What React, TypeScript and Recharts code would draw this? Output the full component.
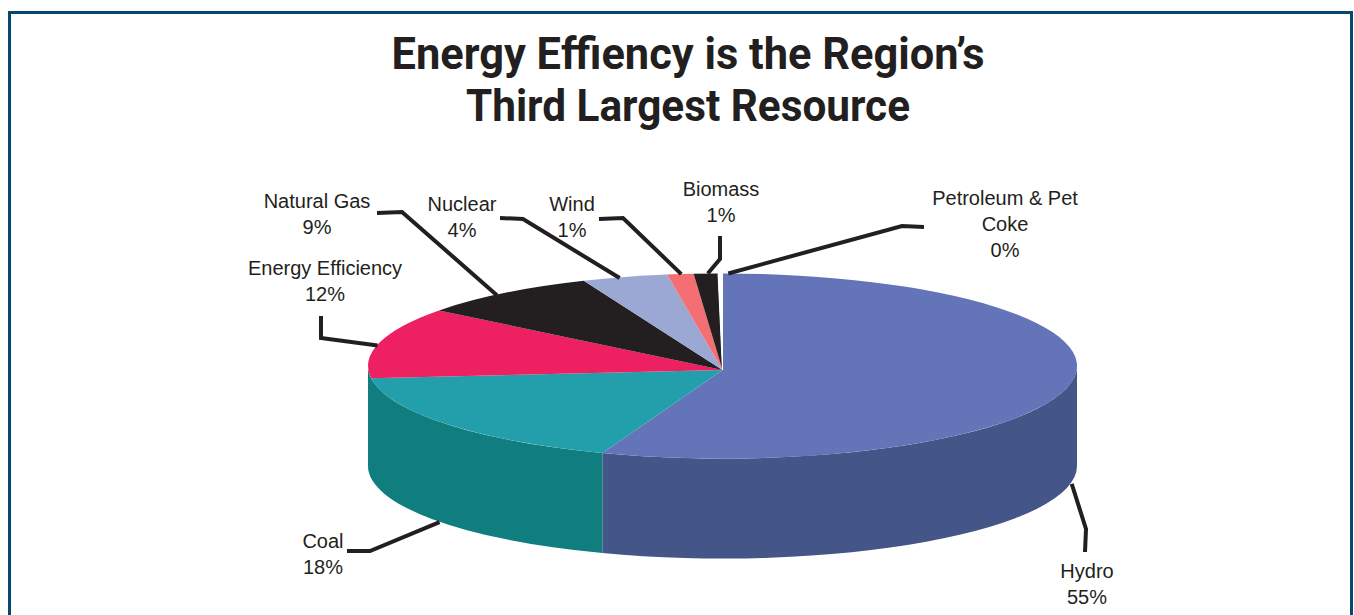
import { Pie, PieChart } from 'recharts'

const categories = ['Hydro', 'Coal', 'Energy Efficiency', 'Natural Gas', 'Nuclear', 'Wind', 'Biomass', 'Petroleum & Pet Coke']
// Slice sizes; the printed percentages are rounded
const values = [55.5, 17.4, 12.35, 8.35, 3.9, 1.2, 1.1, 0.2]
const percentLabels = ['55%', '18%', '12%', '9%', '4%', '1%', '1%', '0%']
const topColors = ['#6474b8', '#239fab', '#ed2061', '#231f20', '#9aa8d3', '#f46f73', '#231f20', '#ffffff']
const wallColors = ['#445587', '#107d7e', '', '', '', '', '', '']

const INK = '#231f20'
const BODY_FONT = 'Liberation Sans'
const RATIO = 0.261 // ellipse squash
const DEPTH = 100
const APEX_DROP = 4

// label block centre, first baseline and wrapped lines, plus leader elbow/end
const labelLines = [['Hydro'], ['Coal'], ['Energy Efficiency'], ['Natural Gas'], ['Nuclear'], ['Wind'], ['Biomass'], ['Petroleum & Pet', 'Coke']]
const labelPos = [[1087, 578], [323, 548], [325, 275], [317, 208], [462, 211], [572, 211], [721, 196], [1005, 205]]
const leaders = [
  [[1086, 529], [1085, 552]],
  [[370, 551], [347, 551]],
  [[321, 338], [321, 316]],
  [[402, 212], [377, 213]],
  [[523, 219], [500, 218]],
  [[623, 218], [599, 219]],
  [[720, 259], [720, 236]],
  [[902, 226], [924, 227]],
]
// where the reference leaders leave the pie, relative to the slice middle
const leaderNudge = [[0, 2], [-7, -2], [-2, 3], [-7, 2], [-5, 1], [1, 0], [2, 0], [8, 0]]

const chartData = categories.map((name, i) => ({
  name,
  value: values[i],
  fill: topColors[i],
  wall: wallColors[i],
  hasNextWall: Boolean(wallColors[i + 1]),
}))

const rad = (a: number) => (a * Math.PI) / 180

function PieSlice(props: any) {
  const { cx, cy, outerRadius: rx, startAngle, endAngle, fill, wall, hasNextWall } = props
  const ry = rx * RATIO
  const px = (a: number) => cx + rx * Math.cos(rad(a))
  const py = (a: number) => cy - ry * Math.sin(rad(a))
  const large = Math.abs(startAngle - endAngle) > 180 ? 1 : 0
  const top = `M${cx},${cy + APEX_DROP} L${px(startAngle)},${py(startAngle)} A${rx},${ry} 0 ${large} 1 ${px(endAngle)},${py(endAngle)} Z`

  let side = null
  if (wall) {
    const from = Math.min(startAngle, 0)
    const to = hasNextWall ? endAngle : -180
    side =
      `M${px(from)},${py(from)} A${rx},${ry} 0 0 1 ${px(to)},${py(to)} ` +
      `L${px(to)},${py(to) + DEPTH} A${rx},${ry} 0 0 0 ${px(from)},${py(from) + DEPTH} Z`
  }
  return (
    <g>
      {side && <path d={side} fill={wall} />}
      <path d={top} fill={fill} stroke={fill === '#ffffff' ? '#ffffff' : 'none'} strokeWidth={1} />
    </g>
  )
}

function SliceLabel(props: any) {
  const { cx, cy, outerRadius: rx, midAngle, index } = props
  const startX = cx + rx * Math.cos(rad(midAngle)) + leaderNudge[index][0]
  const edgeY = cy - rx * RATIO * Math.sin(rad(midAngle)) + leaderNudge[index][1]
  const startY = wallColors[index] ? edgeY + DEPTH : edgeY
  const points = [[startX, startY], ...leaders[index]].map((p) => p.join(',')).join(' ')
  const [x, y] = labelPos[index]
  const lines = [...labelLines[index], percentLabels[index]]
  return (
    <g>
      <polyline points={points} fill="none" stroke={INK} strokeWidth={4} />
      {lines.map((line, i) => (
        <text key={i} x={x} y={y + i * 26} textAnchor="middle" fontFamily={BODY_FONT} fontSize={20} fill={INK}>
          {line}
        </text>
      ))}
    </g>
  )
}

export default function App() {
  return (
    <div style={{ position: 'absolute', left: 0, top: 0, width: 1354, height: 615, overflow: 'hidden', background: '#fff' }}>
      <div
        style={{
          position: 'absolute',
          left: 8,
          top: 11,
          width: 1345,
          height: 640,
          boxSizing: 'border-box',
          border: '3px solid #054a6d',
        }}
      />
      <PieChart width={1354} height={615} margin={{ top: 0, right: 0, bottom: 0, left: 0 }} style={{ position: 'absolute', left: 0, top: 0 }}>
        <text x={688} y={69} textAnchor="middle" fontFamily="Roboto" fontWeight={700} fontSize={44} fill={INK} textLength={593} lengthAdjust="spacingAndGlyphs">
          Energy Effiency is the Region’s
        </text>
        <text x={688} y={121} textAnchor="middle" fontFamily="Roboto" fontWeight={700} fontSize={44} fill={INK} textLength={444} lengthAdjust="spacingAndGlyphs">
          Third Largest Resource
        </text>
        <Pie
          data={chartData}
          dataKey="value"
          nameKey="name"
          cx={722.5}
          cy={366}
          innerRadius={0}
          outerRadius={354.5}
          startAngle={90}
          endAngle={-270}
          paddingAngle={0}
          stroke="none"
          shape={PieSlice}
          label={SliceLabel}
          labelLine={false}
          isAnimationActive={false}
        />
      </PieChart>
    </div>
  )
}
